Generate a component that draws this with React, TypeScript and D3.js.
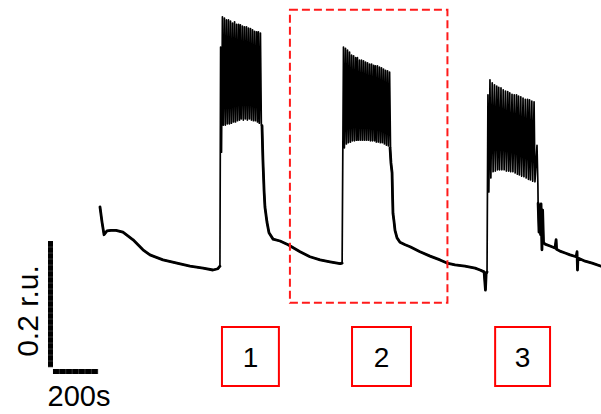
import React from "react";
import * as d3 from "d3";

// Fluorescence ratio trace (time in s, ratio in r.u.)
// Resting / recovery segments: [time, ratio]
const restBefore1: [number, number][] = [
  [0, 1.1], [9, 1.076], [18, 1.056], [31, 1.062], [49, 1.063], [71, 1.063],
  [102, 1.06], [147, 1.048], [191, 1.032], [222, 1.024], [280, 1.016],
  [342, 1.011], [400, 1.006], [458, 1.003], [502, 1.0], [524, 1.002], [533, 1.006],
];

// Oscillation bursts: [spike time, peak ratio, trough ratio]
const burst1: [number, number, number][] = [
  [536, 1.354, 1.187], [544, 1.402, 1.23], [553, 1.4, 1.23], [562, 1.397, 1.232],
  [571, 1.397, 1.232], [580, 1.395, 1.233], [589, 1.392, 1.235], [598, 1.394, 1.235],
  [607, 1.39, 1.237], [616, 1.39, 1.238], [624, 1.389, 1.24], [633, 1.387, 1.238],
  [642, 1.386, 1.24], [651, 1.386, 1.238], [660, 1.384, 1.24], [669, 1.383, 1.238],
  [678, 1.381, 1.237], [687, 1.379, 1.237], [696, 1.378, 1.235], [704, 1.378, 1.233],
  [713, 1.376, 1.23],
];

const recovery1: [number, number][] = [
  [720, 1.229], [724, 1.175], [729, 1.127], [733, 1.1], [742, 1.076], [751, 1.059],
  [769, 1.049], [800, 1.046], [836, 1.04], [889, 1.029], [933, 1.021], [978, 1.016],
  [1022, 1.013], [1067, 1.01], [1076, 1.011],
];

const burst2: [number, number, number][] = [
  [1082, 1.354, 1.194], [1091, 1.352, 1.2], [1100, 1.349, 1.202], [1109, 1.346, 1.203],
  [1118, 1.341, 1.205], [1127, 1.34, 1.205], [1136, 1.337, 1.206], [1144, 1.337, 1.206],
  [1153, 1.333, 1.206], [1162, 1.333, 1.206], [1171, 1.332, 1.206], [1180, 1.33, 1.206],
  [1189, 1.329, 1.206], [1198, 1.327, 1.205], [1207, 1.327, 1.205], [1216, 1.325, 1.205],
  [1224, 1.324, 1.203], [1233, 1.324, 1.203], [1242, 1.322, 1.202], [1251, 1.321, 1.202],
  [1260, 1.319, 1.2], [1269, 1.317, 1.198], [1278, 1.316, 1.197], [1287, 1.314, 1.195],
];

const recovery2: [number, number][] = [
  [1289, 1.194], [1293, 1.17], [1298, 1.154], [1300, 1.119], [1302, 1.09], [1307, 1.076],
  [1311, 1.063], [1320, 1.051], [1333, 1.044], [1356, 1.04], [1378, 1.037], [1422, 1.029],
  [1467, 1.022], [1511, 1.016], [1542, 1.011], [1578, 1.008], [1622, 1.006], [1667, 1.003],
  [1689, 1.0], [1707, 0.997], [1713, 0.968], [1716, 0.994], [1720, 0.997],
];

const burst3: [number, number, number][] = [
  [1724, 1.278, 1.124], [1733, 1.302, 1.146], [1743, 1.297, 1.156], [1753, 1.294, 1.157],
  [1763, 1.292, 1.159], [1772, 1.29, 1.159], [1782, 1.289, 1.159], [1792, 1.286, 1.159],
  [1802, 1.284, 1.157], [1812, 1.283, 1.157], [1821, 1.281, 1.156], [1831, 1.279, 1.156],
  [1841, 1.278, 1.154], [1851, 1.278, 1.152], [1860, 1.276, 1.151], [1870, 1.275, 1.149],
  [1880, 1.273, 1.148], [1890, 1.271, 1.146], [1900, 1.271, 1.144], [1909, 1.27, 1.143],
  [1919, 1.268, 1.141], [1929, 1.267, 1.14], [1942, 1.198, 1.135],
];

const recovery3: [number, number][] = [
  [1947, 1.106], [1951, 1.06], [1953, 1.103], [1958, 1.056], [1960, 1.105], [1964, 1.032],
  [1967, 1.095], [1971, 1.044], [1978, 1.041], [2000, 1.038], [2022, 1.035], [2027, 1.048],
  [2029, 1.033], [2044, 1.03], [2067, 1.027], [2089, 1.024], [2116, 1.021], [2120, 1.029],
  [2122, 1.0], [2124, 1.019], [2156, 1.014], [2187, 1.011], [2227, 1.006],
];

// Scale bar values and labels
const scaleBarRatio = 0.2;
const scaleBarTime = 200;
const ratioLabel = "0.2 r.u.";
const timeLabel = "200s";
const phaseLabels = ["1", "2", "3"];

// Annotation regions in data coordinates
const phaseSpans: [number, number][] = [[542, 795], [1120, 1382], [1756, 2000]];
const highlightSpan: [number, number] = [844, 1544];
const highlightRange: [number, number] = [0.948, 1.413];

const W = 601;
const H = 414;
const FONT = "'Liberation Sans', Arial, sans-serif";

export default function App() {
  const x = d3.scaleLinear().domain([0, 2222]).range([100, 600]);
  const y = d3.scaleLinear().domain([1.0, 1.4]).range([270, 18]);
  const line = d3
    .line<[number, number]>()
    .x((d) => x(d[0]))
    .y((d) => y(d[1]));

  // each spike: rise to its peak, fall back to its trough a few seconds later
  const spikes = (b: [number, number, number][]): [number, number][] =>
    b.flatMap(([t, p, q]) => [
      [t, p] as [number, number],
      [t + 4, q] as [number, number],
    ]);

  const full: [number, number][] = [
    ...restBefore1,
    ...spikes(burst1),
    ...recovery1,
    ...spikes(burst2),
    ...recovery2,
    ...spikes(burst3),
    ...recovery3,
  ];
  const slow = [restBefore1, recovery1, recovery2, recovery3];

  // scale bar geometry (anchored at bottom-left of the bar)
  const barBase = 0.846;
  const barStart = -209;
  const vTop = y(barBase + scaleBarRatio);
  const vBot = y(barBase);
  const hL = x(barStart);
  const hR = x(barStart + scaleBarTime);
  const vX = 48;
  const hY = 369;
  const vTicks = d3.range(vTop + 6, vBot, 6);
  const hTicks = d3.range(hL + 6.4, hR, 6.4);

  const boxTop = 327;
  const boxH = 59;

  return (
    <svg
      width={W}
      height={H}
      style={{ position: "absolute", left: 0, top: 0, background: "#fff" }}
    >
      <rect x={0} y={0} width={W} height={H} fill="#fff" />
      <path d={line(full) || ""} fill="none" stroke="#000" strokeWidth={1.7} strokeLinejoin="round" />
      {slow.map((s, i) => (
        <path
          key={i}
          d={line(s) || ""}
          fill="none"
          stroke="#000"
          strokeWidth={2.8}
          strokeLinejoin="round"
          strokeLinecap="round"
        />
      ))}

      {/* highlighted episode */}
      <rect
        x={x(highlightSpan[0])}
        y={y(highlightRange[1])}
        width={x(highlightSpan[1]) - x(highlightSpan[0])}
        height={y(highlightRange[0]) - y(highlightRange[1])}
        fill="none"
        stroke="#ff1a1a"
        strokeWidth={2}
        strokeDasharray="8,4"
      />

      {/* phase boxes */}
      {phaseSpans.map(([a, b], i) => (
        <g key={i}>
          <rect
            x={x(a)}
            y={boxTop}
            width={x(b) - x(a)}
            height={boxH}
            fill="none"
            stroke="#ff0000"
            strokeWidth={2}
          />
          <text
            x={(x(a) + x(b)) / 2}
            y={boxTop + boxH / 2 + 10}
            textAnchor="middle"
            fontFamily={FONT}
            fontSize={28}
            fill="#000"
          >
            {phaseLabels[i]}
          </text>
        </g>
      ))}

      {/* scale bars */}
      <rect x={vX} y={vTop} width={5} height={vBot - vTop} fill="#000" />
      {vTicks.map((v, i) => (
        <line key={"v" + i} x1={vX} x2={vX + 5} y1={v} y2={v} stroke="#555" strokeWidth={0.6} />
      ))}
      <rect x={hL} y={hY} width={hR - hL} height={5} fill="#000" />
      {hTicks.map((v, i) => (
        <line key={"h" + i} x1={v} x2={v} y1={hY} y2={hY + 5} stroke="#555" strokeWidth={0.6} />
      ))}
      <text
        transform={`translate(38,311) rotate(-90)`}
        textAnchor="middle"
        fontFamily={FONT}
        fontSize={30}
        fill="#000"
      >
        {ratioLabel}
      </text>
      <text x={79} y={406} textAnchor="middle" fontFamily={FONT} fontSize={29} fill="#000">
        {timeLabel}
      </text>
    </svg>
  );
}
